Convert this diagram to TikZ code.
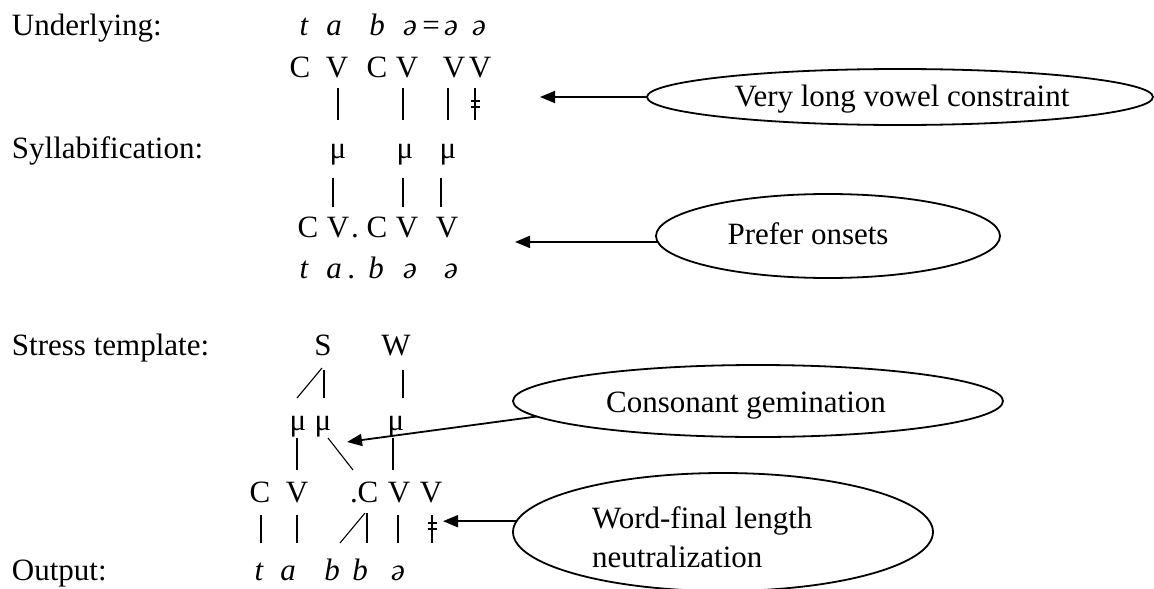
\documentclass[tikz,border=0pt]{standalone}
\usepackage{fontspec}
\setmainfont{Liberation Serif}
\usetikzlibrary{arrows.meta,shapes.geometric}

\begin{document}
\begin{tikzpicture}[x=1pt,y=-1pt,
  every node/.style={inner sep=0pt,outer sep=0pt},
  seg/.style={anchor=base,font=\fontsize{31}{37}\selectfont},
  iseg/.style={anchor=base,font=\fontsize{31}{37}\selectfont\itshape},
  lab/.style={anchor=base west,font=\fontsize{31}{37}\selectfont},
  otext/.style={anchor=base,font=\fontsize{31}{37}\selectfont},
  assoc/.style={line width=1.1pt},
  oval/.style={draw,ellipse,line width=1.8pt},
  pointer/.style={line width=1.8pt,-{Triangle[length=15pt,width=12pt]}},
]
\useasboundingbox (0,0) rectangle (1154,589);

% tier labels
\node[lab] (lu) at (12,35)  {Underlying:};
\node[lab] (ls) at (12,158) {Syllabification:};
\node[lab] (lt) at (12,355) {Stress template:};
\node[lab] (lo) at (12,580) {Output:};

% underlying form
\node[iseg] (u1) at (304,35) {t};
\node[iseg] (u2) at (334,35) {a};
\node[iseg] (u3) at (377,35) {b};
\node[iseg] (u4) at (410,35) {ə};
\node[seg]  (u5) at (431,35) {=};
\node[iseg] (u6) at (451,35) {ə};
\node[iseg] (u7) at (479,35) {ə};

\node[seg] (uC1) at (300,77) {C};
\node[seg] (uV1) at (337,77) {V};
\node[seg] (uC2) at (377,77) {C};
\node[seg] (uV2) at (407,77) {V};
\node[seg] (uV3) at (454,77) {V};
\node[seg] (uV4) at (480,77) {V};

\draw[assoc] ([shift={(1,11)}]uV1.base)  -- ++(0,32);
\draw[assoc] ([shift={(-4,11)}]uV2.base) -- ++(0,32);
\draw[assoc] ([shift={(-6,11)}]uV3.base) -- ++(0,32);
\draw[assoc] ([shift={(-5,11)}]uV4.base) coordinate (ubar) -- ++(0,32);
\draw[assoc] ([shift={(-4.5,13)}]ubar) -- ++(9,0)
             ([shift={(-4.5,19)}]ubar) -- ++(9,0);

% syllabification
\node[seg] (sm1) at (338,158) {μ};
\node[seg] (sm2) at (405,158) {μ};
\node[seg] (sm3) at (448,158) {μ};

\draw[assoc] ([shift={(-5,20)}]sm1.base) -- ++(0,29);
\draw[assoc] ([shift={(-2,20)}]sm2.base) -- ++(0,29);
\draw[assoc] ([shift={(-7,20)}]sm3.base) -- ++(0,29);

\node[seg] (sC1) at (308,237) {C};
\node[seg] (sV1) at (338,237) {V};
\node[seg] (sd)  at (355,237) {.};
\node[seg] (sC2) at (377,237) {C};
\node[seg] (sV2) at (407,237) {V};
\node[seg] (sV3) at (447,237) {V};

\node[iseg] (s1) at (304,278) {t};
\node[iseg] (s2) at (334,278) {a};
\node[iseg] (s3) at (352,278) {.};
\node[iseg] (s4) at (376,278) {b};
\node[iseg] (s5) at (410,278) {ə};
\node[iseg] (s6) at (451,278) {ə};

% stress template
\node[seg] (tS) at (323,355) {S};
\node[seg] (tW) at (396,355) {W};

\draw[assoc] ([shift={(-1,13)}]tS.base) -- ++(-25,30);
\draw[assoc] ([shift={(1,15)}]tS.base) -- ++(0,28);
\draw[assoc] ([shift={(7,15)}]tW.base) -- ++(0,28);

\node[seg] (tm1) at (298,430) {μ};
\node[seg] (tm2) at (323,430) {μ};
\node[seg] (tm3) at (396,430) {μ};

\draw[assoc] ([shift={(-1,8)}]tm1.base) -- ++(0,32);
\draw[assoc] ([shift={(5,8)}]tm2.base) -- ++(25,32);
\draw[assoc] ([shift={(-3,8)}]tm3.base) -- ++(0,32);

\node[seg] (tC1) at (260,502) {C};
\node[seg] (tV1) at (297,502) {V};
\node[seg] (td)  at (354,502) {.};
\node[seg] (tC2) at (368,502) {C};
\node[seg] (tV2) at (399,502) {V};
\node[seg] (tV3) at (431,502) {V};

\draw[assoc] ([shift={(1,13)}]tC1.base) -- ++(0,28);
\draw[assoc] ([shift={(0,13)}]tV1.base) -- ++(0,28);
\draw[assoc] ([shift={(-28,41)}]tC2.base) -- ++(25,-30);
\draw[assoc] ([shift={(-1,11)}]tC2.base) -- ++(0,30);
\draw[assoc] ([shift={(-1,13)}]tV2.base) -- ++(0,28);
\draw[assoc] ([shift={(1,13)}]tV3.base) coordinate (tbar) -- ++(0,28);
\draw[assoc] ([shift={(-4.5,8)}]tbar) -- ++(9,0)
             ([shift={(-4.5,14)}]tbar) -- ++(9,0);

% output
\node[iseg] (o1) at (259,580) {t};
\node[iseg] (o2) at (288,580) {a};
\node[iseg] (o3) at (332,580) {b};
\node[iseg] (o4) at (360,580) {b};
\node[iseg] (o5) at (398,580) {ə};

% constraints
\node[oval,minimum width=506pt,minimum height=56pt] (e1) at (900,97) {};
\node[otext] (t1) at (902,106) {Very long vowel constraint};
\node[oval,minimum width=344pt,minimum height=84pt] (e2) at (828,236) {};
\node[otext] (t2) at (808,244) {Prefer onsets};
\node[oval,minimum width=490pt,minimum height=72pt] (e3) at (758,401) {};
\node[otext] (t3) at (746,412) {Consonant gemination};
\node[oval,minimum width=420pt,minimum height=118pt] (e4) at (723,532) {};
\node[anchor=base west,align=left,font=\fontsize{31}{39}\selectfont] (t4) at (592,567)
  {Word-final length\\neutralization};

\coordinate (p1) at (540,0);
\coordinate (p2) at (515,0);
\coordinate (p3) at (347,442);
\coordinate (p4) at (443,0);

\draw[pointer] (e1.west) -- (e1.west -| p1);
\draw[pointer] (e2.182) -- (e2.182 -| p2);
\draw[pointer] (e3.184) -- (p3);
\draw[pointer] (e4.177) -- (e4.177 -| p4);
\end{tikzpicture}
\end{document}
